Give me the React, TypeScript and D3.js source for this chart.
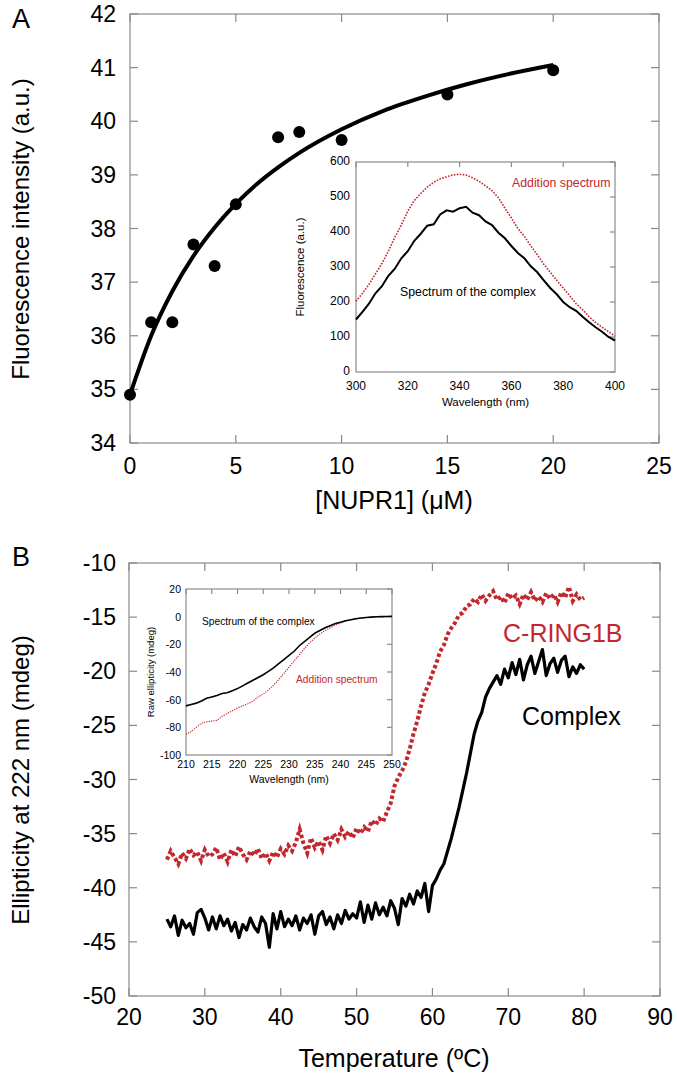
import React from "react";
import * as d3 from "d3";

// ---------- Panel A data ----------
const nuprConc = [0, 1, 2, 3, 4, 5, 7, 8, 10, 15, 20];
const fluoIntensity = [34.9, 36.25, 36.25, 37.7, 37.3, 38.45, 39.7, 39.8, 39.65, 40.5, 40.95];
const fitX = [0, 1, 2, 3, 4, 5, 6, 7, 8, 10, 12, 14, 16, 18, 20];
const fitY = [34.9, 36.0, 36.83, 37.49, 38.02, 38.46, 38.83, 39.14, 39.41, 39.85, 40.2, 40.47, 40.7, 40.89, 41.05];
const xTicksA = [0, 5, 10, 15, 20, 25];
const yTicksA = [34, 35, 36, 37, 38, 39, 40, 41, 42];

// Inset A (fluorescence spectra)
const wavelengthsA = [300, 302.5, 305, 307.5, 310, 312.5, 315, 317.5, 320, 322.5, 325, 327.5, 330, 332.5, 335, 337.5, 340, 342.5, 345, 347.5, 350, 352.5, 355, 357.5, 360, 362.5, 365, 367.5, 370, 372.5, 375, 377.5, 380, 382.5, 385, 387.5, 390, 392.5, 395, 397.5, 400];
const complexSpecA = [150, 172, 195, 225, 245, 275, 295, 325, 345, 375, 395, 418, 422, 450, 462, 458, 468, 472, 455, 448, 430, 420, 398, 382, 360, 340, 325, 302, 285, 262, 240, 222, 200, 185, 175, 158, 142, 128, 115, 100, 90];
const additionSpecA = [202, 225, 250, 280, 310, 345, 385, 420, 460, 490, 510, 528, 542, 552, 558, 563, 565, 563, 555, 545, 532, 518, 498, 468, 440, 410, 388, 360, 335, 308, 285, 262, 240, 218, 195, 178, 158, 142, 128, 115, 103];
const insetAXTicks = [300, 320, 340, 360, 380, 400];
const insetAYTicks = [0, 100, 200, 300, 400, 500, 600];

// ---------- Panel B data ----------
const temps = d3.range(25, 80.001, 0.5);
const cRing1b = [
  -37.4, -36.6, -37.2, -37.8, -36.8, -37.3, -36.4, -37.0, -36.7, -37.5, -36.5, -37.1, -36.9, -36.3, -37.4, -36.8,
  -37.6, -36.5, -37.1, -36.2, -36.9, -37.4, -36.6, -37.0, -36.4, -37.3, -36.8, -37.5, -36.7, -37.2, -36.4,
  -36.9, -36.1, -36.6, -35.8, -34.6, -35.9, -36.8, -35.4, -36.3, -35.7, -36.5, -35.2, -35.9, -35.0, -35.6, -34.6,
  -35.3, -34.8, -35.4, -34.5,
  -35.0, -34.4, -34.8, -33.8, -34.2, -33.6, -33.9, -33.0,
  -32.2, -30.6, -29.8, -29.2, -28.4, -27.2, -25.8, -24.6, -23.2, -22.0, -21.2, -20.2, -19.3, -18.2, -17.6, -16.6,
  -16.0, -15.5, -14.8, -14.6, -14.0, -13.8, -13.3, -13.6,
  -12.9, -13.5, -13.0, -12.6, -13.4, -13.1, -13.7, -12.8, -13.3, -13.0, -13.8, -12.9, -13.4, -12.7, -13.5, -13.1,
  -13.6, -12.8, -13.3, -12.9, -13.6, -12.7, -13.2, -12.2, -13.5, -12.9, -13.4, -13.2,
];
const complexB = [
  -42.9, -43.6, -42.6, -44.4, -43.0, -43.7, -43.3, -44.3, -42.3, -42.0, -42.8, -43.9, -42.7, -43.8, -42.6, -43.5,
  -42.9, -44.0, -43.2, -44.6, -43.4, -43.9, -42.8, -43.6, -44.1, -42.7, -43.3, -45.5, -42.4, -43.8, -42.2, -43.6,
  -42.9, -43.5, -42.6, -43.9, -42.8, -43.3, -42.5, -44.3, -42.6,
  -42.2, -43.4, -42.7, -43.8, -42.5, -43.3, -42.1, -42.9, -42.4, -42.8, -41.3, -43.2, -41.6, -42.9, -41.4, -42.5,
  -41.8, -42.6, -41.2, -41.9,
  -43.4, -41.0, -41.7, -40.6, -41.5, -40.3, -40.9, -39.6, -42.2, -39.8,
  -39.2, -38.4, -37.8, -36.6, -35.4, -34.0, -32.6, -31.0, -29.4, -27.6, -25.8, -24.6, -23.8, -22.4, -21.6, -21.0,
  -20.4, -21.2, -19.8,
  -20.6, -19.2, -20.3, -18.9, -20.8, -19.4, -18.6, -20.2, -19.1, -18.0, -20.4, -19.3, -18.8, -20.1, -19.0, -18.6,
  -20.5, -19.6, -20.2, -19.4, -19.8,
];
const xTicksB = [20, 30, 40, 50, 60, 70, 80, 90];
const yTicksB = [-10, -15, -20, -25, -30, -35, -40, -45, -50];

// Inset B (CD spectra)
const wavelengthsB = [210, 211, 212, 213, 214, 215, 216, 217, 218, 219, 220, 221, 222, 223, 224, 225, 226, 227, 228, 229, 230, 231, 232, 233, 234, 235, 236, 237, 238, 239, 240, 241, 242, 243, 244, 245, 246, 247, 248, 249, 250];
const complexSpecB = [-64.5, -63.5, -62.5, -61, -59, -58, -57, -55.5, -55, -53.5, -52, -50, -48, -46, -44, -42, -39.5, -37, -34, -31, -28, -25, -21, -18, -15, -12, -10, -8, -6.5, -5, -4, -3, -2.2, -1.5, -1, -0.6, -0.3, -0.1, 0, 0.1, 0.2];
const additionSpecB = [-85, -83, -80, -77, -76, -75.5, -75, -72, -70, -68, -66, -64.5, -63, -61, -58, -56, -53, -49.5, -45.5, -41, -36.5, -32, -27.5, -23, -19, -15.5, -12.5, -10, -8, -6, -4.5, -3.2, -2.2, -1.5, -1, -0.6, -0.3, -0.1, 0, 0.1, 0.2];
const insetBXTicks = [210, 215, 220, 225, 230, 235, 240, 245, 250];
const insetBYTicks = [20, 0, -20, -40, -60, -80, -100];

const RED = "#c1272d";
const FRAME = "#8a8a8a";
const FONT = "'Liberation Sans', Arial, Helvetica, sans-serif";

type FrameProps = {
  x: d3.ScaleLinear<number, number>;
  y: d3.ScaleLinear<number, number>;
  xt: number[];
  yt: number[];
  inLen: number;
  outLeftBottom?: number;
  inTopRight?: number;
};

function Frame({ x, y, xt, yt, inLen, outLeftBottom, inTopRight }: FrameProps) {
  const [x0, x1] = x.range();
  const [y0, y1] = y.range(); // y0 bottom, y1 top
  const lb = outLeftBottom ?? -inLen; // negative => inward
  const tr = inTopRight ?? inLen;
  return (
    <g stroke={FRAME} strokeWidth={1.2} fill="none">
      <rect x={x0} y={y1} width={x1 - x0} height={y0 - y1} />
      {xt.map((t) => (
        <g key={"x" + t}>
          <line x1={x(t)} x2={x(t)} y1={y0} y2={y0 + lb} />
          <line x1={x(t)} x2={x(t)} y1={y1} y2={y1 + tr} />
        </g>
      ))}
      {yt.map((t) => (
        <g key={"y" + t}>
          <line x1={x0} x2={x0 - lb} y1={y(t)} y2={y(t)} />
          <line x1={x1} x2={x1 - tr} y1={y(t)} y2={y(t)} />
        </g>
      ))}
    </g>
  );
}

export default function App() {
  // ----- Panel A scales -----
  const xA = d3.scaleLinear().domain([0, 25]).range([130, 659]);
  const yA = d3.scaleLinear().domain([34, 42]).range([443, 14]);
  const fitLine = d3
    .line<number>()
    .x((_, i) => xA(fitX[i]))
    .y((d) => yA(d))
    .curve(d3.curveMonotoneX);

  // Inset A
  const xIA = d3.scaleLinear().domain([300, 400]).range([356, 615]);
  const yIA = d3.scaleLinear().domain([0, 600]).range([372, 162]);
  const specLineA = d3
    .line<number>()
    .x((_, i) => xIA(wavelengthsA[i]))
    .y((d) => yIA(d));

  // ----- Panel B scales -----
  const xB = d3.scaleLinear().domain([20, 90]).range([129, 660]);
  const yB = d3.scaleLinear().domain([-50, -10]).range([996, 563]);
  const meltLine = d3
    .line<number>()
    .x((_, i) => xB(temps[i]))
    .y((d) => yB(d));

  // Inset B
  const xIB = d3.scaleLinear().domain([210, 250]).range([186, 392]);
  const yIB = d3.scaleLinear().domain([-100, 20]).range([755, 589]);
  const specLineB = d3
    .line<number>()
    .x((_, i) => xIB(wavelengthsB[i]))
    .y((d) => yIB(d));

  return (
    <svg
      width={677}
      height={1073}
      style={{ position: "absolute", left: 0, top: 0, background: "#fff" }}
      fontFamily={FONT}
    >
      <rect x={0} y={0} width={677} height={1073} fill="#fff" />

      {/* ================= Panel A ================= */}
      <text x={12} y={28} fontSize={27}>A</text>
      <Frame x={xA} y={yA} xt={xTicksA} yt={yTicksA} inLen={8} />
      {yTicksA.map((t) => (
        <text key={t} x={116} y={yA(t) + 8} fontSize={23} textAnchor="end">{t}</text>
      ))}
      {xTicksA.map((t) => (
        <text key={t} x={xA(t)} y={474} fontSize={23} textAnchor="middle">{t}</text>
      ))}
      <text x={394} y={509} fontSize={25} textAnchor="middle">[NUPR1] (μM)</text>
      <text transform="translate(29,229) rotate(-90)" fontSize={24} textAnchor="middle">
        Fluorescence intensity (a.u.)
      </text>
      <path d={fitLine(fitY) || ""} fill="none" stroke="#000" strokeWidth={4} />
      {nuprConc.map((c, i) => (
        <circle key={i} cx={xA(c)} cy={yA(fluoIntensity[i])} r={6} fill="#000" />
      ))}

      {/* Inset A */}
      <rect x={356} y={162} width={259} height={210} fill="#fff" />
      <Frame x={xIA} y={yIA} xt={insetAXTicks} yt={insetAYTicks} inLen={5} outLeftBottom={0} inTopRight={5} />
      {insetAYTicks.map((t) => (
        <text key={t} x={350} y={yIA(t) + 3} fontSize={12} textAnchor="end">{t}</text>
      ))}
      {insetAXTicks.map((t) => (
        <text key={t} x={xIA(t)} y={390} fontSize={12} textAnchor="middle">{t}</text>
      ))}
      <text x={485.5} y={406} fontSize={11.5} textAnchor="middle">Wavelength (nm)</text>
      <text transform="translate(304,267) rotate(-90)" fontSize={11.5} textAnchor="middle">
        Fluorescence (a.u.)
      </text>
      <path d={specLineA(additionSpecA) || ""} fill="none" stroke={RED} strokeWidth={1.6} strokeDasharray="1.6,1.4" />
      <path d={specLineA(complexSpecA) || ""} fill="none" stroke="#000" strokeWidth={2} />
      <text x={512} y={187} fontSize={12.3} fill={RED}>Addition spectrum</text>
      <text x={400} y={296} fontSize={12.3} fill="#000">Spectrum of the complex</text>

      {/* ================= Panel B ================= */}
      <text x={12} y={566} fontSize={27}>B</text>
      <Frame x={xB} y={yB} xt={xTicksB} yt={yTicksB} inLen={8} />
      {yTicksB.map((t) => (
        <text key={t} x={116} y={yB(t) + 8} fontSize={23} textAnchor="end">{t}</text>
      ))}
      {xTicksB.map((t) => (
        <text key={t} x={xB(t)} y={1025} fontSize={23} textAnchor="middle">{t}</text>
      ))}
      <text x={394} y={1067} fontSize={25} textAnchor="middle">Temperature (ºC)</text>
      <text transform="translate(29,780) rotate(-90)" fontSize={24} textAnchor="middle">
        Ellipticity at 222 nm (mdeg)
      </text>
      <path d={meltLine(cRing1b) || ""} fill="none" stroke={RED} strokeWidth={4} strokeDasharray="3.5,2.5" />
      <path d={meltLine(complexB) || ""} fill="none" stroke="#000" strokeWidth={3.2} strokeLinejoin="round" />
      <text x={503} y={642} fontSize={25} fill={RED}>C-RING1B</text>
      <text x={522} y={725} fontSize={25} fill="#000">Complex</text>

      {/* Inset B */}
      <rect x={186} y={589} width={206} height={166} fill="#fff" />
      <Frame x={xIB} y={yIB} xt={insetBXTicks} yt={insetBYTicks} inLen={5} outLeftBottom={0} inTopRight={5} />
      {insetBYTicks.map((t) => (
        <text key={t} x={181} y={yIB(t) + 4} fontSize={10.5} textAnchor="end">{t}</text>
      ))}
      {insetBXTicks.map((t) => (
        <text key={t} x={xIB(t)} y={768} fontSize={10.5} textAnchor="middle">{t}</text>
      ))}
      <text x={289} y={783} fontSize={10.5} textAnchor="middle">Wavelength (nm)</text>
      <text transform="translate(154,672) rotate(-90)" fontSize={9.5} textAnchor="middle">
        Raw ellipticity (mdeg)
      </text>
      <path d={specLineB(additionSpecB) || ""} fill="none" stroke={RED} strokeWidth={1.2} strokeDasharray="1.2,1.2" />
      <path d={specLineB(complexSpecB) || ""} fill="none" stroke="#000" strokeWidth={1.6} />
      <text x={202} y={625} fontSize={10.2} fill="#000">Spectrum of the complex</text>
      <text x={296} y={683} fontSize={10.2} fill={RED}>Addition spectrum</text>
    </svg>
  );
}
